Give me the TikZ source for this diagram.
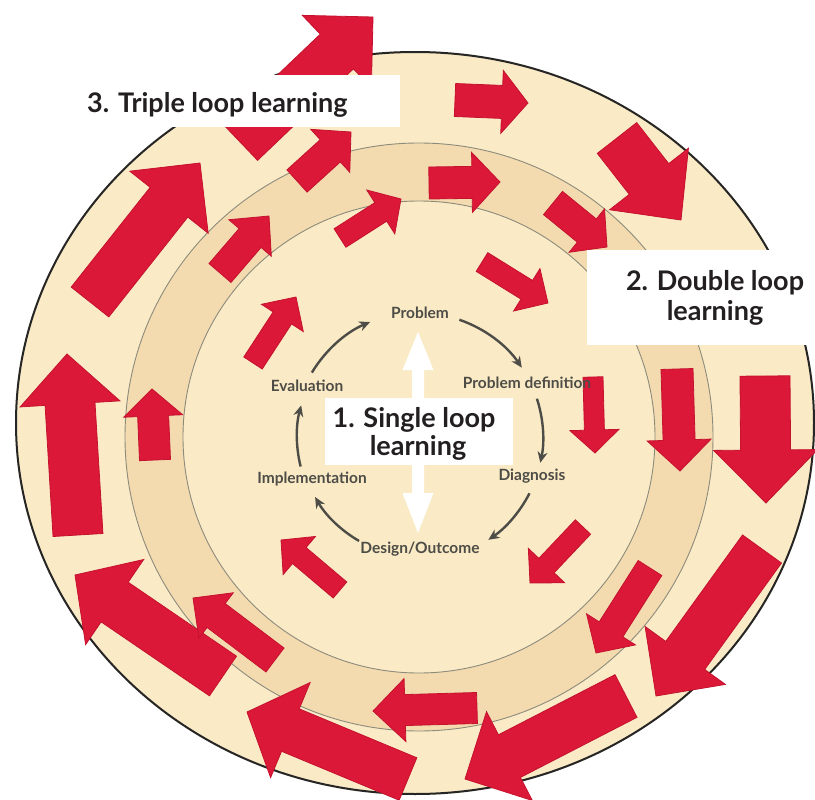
\documentclass[tikz,border=0pt]{standalone}
\usepackage{fontspec}
\setmainfont{Lato}
\usetikzlibrary{calc,arrows.meta}

\definecolor{cream}{HTML}{FAEBC6}
\definecolor{band}{HTML}{F3DBAF}
\definecolor{ringline}{HTML}{8C8B7C}
\definecolor{arrowred}{HTML}{DC1838}
\definecolor{arrowedge}{HTML}{C4122F}
\definecolor{labelgray}{HTML}{4D4C46}
\definecolor{headtext}{HTML}{231F20}

% Block arrow from tail centre #1 to tip #2:
% #3 half shaft width, #4 half head width, #5 head length (all in pt)
\newcommand{\redarr}[5]{%
  \coordinate (ra-t) at (#1);
  \coordinate (ra-h) at (#2);
  \coordinate (ra-b) at ($(ra-h)!#5pt!(ra-t)$);
  \filldraw[redarrow]
    ($(ra-t)!#3pt!90:(ra-h)$) -- ($(ra-b)!#3pt!90:(ra-h)$) --
    ($(ra-b)!#4pt!90:(ra-h)$) -- (ra-h) --
    ($(ra-b)!#4pt!-90:(ra-h)$) -- ($(ra-b)!#3pt!-90:(ra-h)$) --
    ($(ra-t)!#3pt!-90:(ra-h)$) -- cycle;}

\begin{document}
\begin{tikzpicture}[x=1pt,y=-1pt,
  redarrow/.style={fill=arrowred,draw=arrowedge,line width=0.8pt,line join=miter},
  steplabel/.style={text=labelgray,font=\bfseries\fontsize{15.5}{17}\selectfont,inner sep=1pt},
  cyclearrow/.style={draw=labelgray,line width=2.4pt,-{Stealth[length=11pt,width=10pt]}},
  headline/.style={text=headtext,font=\bfseries\fontsize{27}{32}\selectfont,inner sep=0pt},
  whitebox/.style={fill=white}]

\useasboundingbox (0,0) rectangle (815,800);
\fill[white] (0,0) rectangle (815,800);

% --- rings -------------------------------------------------------------
\coordinate (hub) at (419,437);
\fill[cream] (415,423) ellipse[x radius=400,y radius=372];
\fill[band,even odd rule] (hub) circle[radius=294] (hub) circle[radius=236];
\draw[ringline,line width=0.9pt] (hub) circle[radius=294];
\draw[ringline,line width=0.9pt] (hub) circle[radius=236];
\draw[black!85,line width=2pt] (415,423) ellipse[x radius=399,y radius=371];

% --- outer ring: triple loop arrows -------------------------------------
\redarr{90,302}{200,163}{24}{50}{50}
\redarr{241,143}{373,17}{24}{50}{50}
\redarr{455,100}{528,103}{16.5}{31.5}{26}
\redarr{617,138}{681,220}{25}{50}{52}
\redarr{765,376}{766,503}{25}{52}{53}
\redarr{762,549}{656,696}{24}{49.5}{50}
\redarr{626,696}{465,779}{24}{50}{50}
\redarr{408,779}{247,712}{23}{51.5}{47}
\redarr{223,676}{75,575}{24}{51.5}{48}
\redarr{78,535}{67,354}{25}{50}{50}

% --- middle band: double loop arrows ------------------------------------
\redarr{155,460}{152,389}{15.5}{29.5}{27}
\redarr{220,273}{269,216}{14.5}{28}{29}
\redarr{297,181}{351,132}{15}{29}{28}
\redarr{429,183}{500,182}{16}{30}{28}
\redarr{553,203}{607,247}{15}{28}{26}
\redarr{677,369}{680,471}{16}{32}{31}
\redarr{650,568}{596,653}{14}{29}{28}
\redarr{477,708}{373,711}{15.5}{31.5}{32}
\redarr{275,660}{193,598}{15}{28.5}{29}

% --- inner disc arrows ---------------------------------------------------
\redarr{253,363}{296,297}{11}{25}{25}
\redarr{340,238}{401,199}{11}{26}{24}
\redarr{482,262}{548,303}{11}{25}{25}
\redarr{593,377}{595,453}{10}{24.5}{23}
\redarr{583,527}{530,583}{10.5}{25}{24}
\redarr{340,590}{281,540}{10.5}{25}{24}

% --- single loop cycle ---------------------------------------------------
\fill[white] (418,332) -- (433.5,370) -- (424,370) -- (424,493) -- (433.5,493)
  -- (418,533) -- (402.5,493) -- (412,493) -- (412,370) -- (402.5,370) -- cycle;

\node[steplabel] (prob)  at (420,313) {Problem};
\node[steplabel] (pdef)  at (527,383) {Problem definition};
\node[steplabel] (diag)  at (532,476) {Diagnosis};
\node[steplabel] (design) at (420,549) {Design/Outcome};
\node[steplabel] (impl)  at (312,479) {Implementation};
\node[steplabel] (eval)  at (307,386) {Evaluation};

\draw[cyclearrow] ([shift={(-71:124)}]hub) arc[start angle=-71,end angle=-34,radius=124];
\draw[cyclearrow] ([shift={(-18:124)}]hub) arc[start angle=-18,end angle=12,radius=124];
\draw[cyclearrow] ([shift={(27:124)}]hub) arc[start angle=27,end angle=56,radius=124];
\draw[cyclearrow] ([shift={(120:120)}]hub) arc[start angle=120,end angle=150,radius=120];
\draw[cyclearrow] ([shift={(166:122)}]hub) arc[start angle=166,end angle=195,radius=122];
\draw[cyclearrow] ([shift={(211:125)}]hub) arc[start angle=211,end angle=247,radius=125];

% --- title boxes ---------------------------------------------------------
\fill[whitebox] (75,75) rectangle (400,127);
\node[headline,anchor=base west] (triple) at (87,113) {3. Triple loop learning};

\fill[whitebox] (587,250) rectangle (815,345);
\node[headline,anchor=base] (double1) at (715,290) {2. Double loop};
\node[headline,anchor=base] (double2) at (715,320) {learning};

\fill[whitebox] (325,398) rectangle (513,465);
\node[headline,anchor=base] (single1) at (414,427) {1. Single loop};
\node[headline,anchor=base] (single2) at (418,455) {learning};

\end{tikzpicture}
\end{document}
